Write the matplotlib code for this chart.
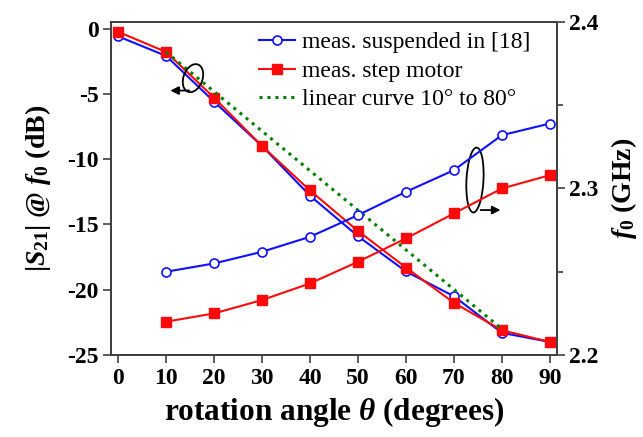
import matplotlib
matplotlib.use("Agg")
import matplotlib.pyplot as plt
import matplotlib.transforms as transforms
from matplotlib.patches import Ellipse

plt.rcParams['font.family'] = ['Liberation Serif', 'DejaVu Serif']
plt.rcParams['mathtext.fontset'] = 'custom'
plt.rcParams['mathtext.rm'] = 'Liberation Serif:bold'
plt.rcParams['mathtext.it'] = 'Liberation Serif:italic:bold'
plt.rcParams['mathtext.bf'] = 'Liberation Serif:bold'

# |S21| at f0 (dB) versus rotation angle
angles = [0, 10, 20, 30, 40, 50, 60, 70, 80, 90]
s21_suspended = [-0.6, -2.1, -5.6, -9.0, -12.8, -15.9, -18.6, -20.5, -23.3, -24.0]
s21_motor = [-0.25, -1.8, -5.3, -9.0, -12.4, -15.5, -18.3, -21.0, -23.1, -24.0]

# straight reference line between 10 and 80 degrees
linear_angles = [10, 80]
linear_s21 = [-1.8, -23.0]

# resonance frequency f0 (GHz)
f0_angles = [10, 20, 30, 40, 50, 60, 70, 80, 90]
f0_suspended = [2.250, 2.255, 2.262, 2.271, 2.284, 2.298, 2.311, 2.332, 2.339]
f0_motor = [2.220, 2.225, 2.233, 2.243, 2.256, 2.270, 2.285, 2.300, 2.308]

x_ticks = [0, 10, 20, 30, 40, 50, 60, 70, 80, 90]
left_ticks = [0, -5, -10, -15, -20, -25]
right_ticks = [2.2, 2.3, 2.4]

blue = '#1010ff'
red = '#ff0a0a'
spine_col = '#404040'

fig = plt.figure(figsize=(6.43, 4.37), dpi=100)
ax = fig.add_axes([0.1726, 0.1876, 0.6936, 0.7621])
ax2 = ax.twinx()

l1, = ax.plot(angles, s21_suspended, color=blue, lw=1.5, marker='o', ms=6.5,
              mfc='white', mec=blue, mew=1.2, label='meas. suspended in [18]')
l2, = ax.plot(angles, s21_motor, color=red, lw=1.5, marker='s', ms=6.5,
              mfc=red, mec=red, label='meas. step motor')
l3, = ax.plot(linear_angles, linear_s21, color='#008000', lw=2.2, ls=(0, (1, 1.6)),
              label='linear curve 10° to 80°')

ax2.plot(f0_angles, f0_suspended, color=blue, lw=1.5, marker='o', ms=6.5,
         mfc='white', mec=blue, mew=1.2)
ax2.plot(f0_angles, f0_motor, color=red, lw=1.5, marker='s', ms=6.5,
         mfc=red, mec=red)

ax.set_xlim(-1.5, 91.5)
ax.set_ylim(-25, 0.5)
ax2.set_ylim(2.2, 2.4)

ax.set_xticks(x_ticks)
ax.set_xticklabels([str(v) for v in x_ticks])
ax.set_yticks(left_ticks)
ax.set_yticklabels([str(v) for v in left_ticks])
ax2.set_yticks(right_ticks)
ax2.set_yticklabels(['%.1f' % v for v in right_ticks])
ax2.set_yticks([2.25, 2.35], minor=True)

for a in (ax, ax2):
    for sp in a.spines.values():
        sp.set_color(spine_col)
        sp.set_linewidth(1.3)
    a.tick_params(direction='out', length=6, width=1.2, color=spine_col,
                  labelsize=17, pad=3)
    for lab in a.get_xticklabels() + a.get_yticklabels():
        lab.set_fontweight('bold')
ax2.tick_params(which='minor', direction='out', length=4, width=1.2, color=spine_col)

ax.set_xlabel(r'rotation angle $\theta$ (degrees)', fontsize=22.5, fontweight='bold', labelpad=5)
ax.set_ylabel(r'$|S_{21}|$ @ $f_{\mathit{0}}$ (dB)', fontsize=20, fontweight='bold', labelpad=10)
ax2.set_ylabel(r'$f_{\mathit{0}}$ (GHz)', fontsize=20, fontweight='bold', labelpad=7)

# ellipses with arrows marking which axis each curve pair belongs to
def mark(cx, cy, w, h, ang):
    tr = fig.dpi_scale_trans + transforms.ScaledTranslation(cx, cy, ax.transData)
    ax.add_patch(Ellipse((0, 0), w, h, angle=ang, transform=tr, fill=False,
                         ec='black', lw=1.3, zorder=5))

mark(15.6, -3.8, 0.19, 0.29, -20)
ax.annotate('', xy=(10.3, -4.75), xytext=(15.4, -4.75),
            arrowprops=dict(arrowstyle='-|>', color='black', lw=1.3, mutation_scale=12))
mark(74.4, -11.6, 0.17, 0.65, -3)
ax.annotate('', xy=(80.3, -13.9), xytext=(75.0, -13.9),
            arrowprops=dict(arrowstyle='-|>', color='black', lw=1.3, mutation_scale=12))

ax.legend(handles=[l1, l2, l3], loc='upper right', bbox_to_anchor=(0.952, 0.985),
          frameon=False, fontsize=17, handlelength=1.55, handletextpad=0.3,
          labelspacing=0.3, borderaxespad=0.0, borderpad=0.2)

fig.savefig('out.png', dpi=100)
